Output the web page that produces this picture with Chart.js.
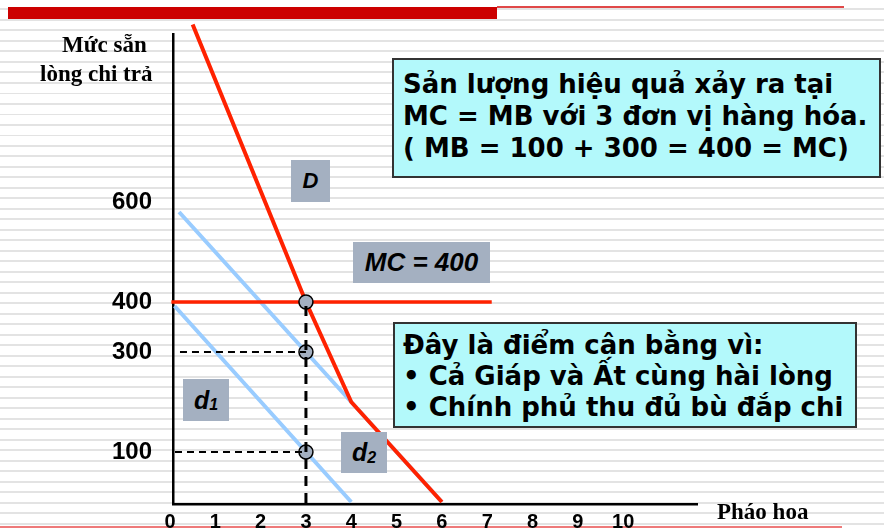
<!DOCTYPE html>
<html>
<head>
<meta charset="utf-8">
<script src="https://cdn.jsdelivr.net/npm/chart.js@4.4.1/dist/chart.umd.min.js"></script>
<style>
  body { margin: 0; }
  #wrap {
    position: relative; width: 884px; height: 530px; overflow: hidden;
    background: repeating-linear-gradient(to bottom, #fff 0px, #fff 8.5px, #e3e3e3 8.5px, #e3e3e3 10.5px);
  }
  #canvas { position: absolute; left: 0; top: 0; }
  .abs { position: absolute; }
  .title { font-family: "Liberation Serif", serif; font-weight: bold; font-size: 23px; white-space: nowrap; color: #000; }
  .note {
    background: #b3f9fb; border: 2px solid #333; box-sizing: border-box;
    font-family: "DejaVu Sans", Verdana, sans-serif; font-weight: bold; color: #000; white-space: nowrap;
  }
  .tag {
    background: #a4b0c1; font-family: "Liberation Sans", Arial, sans-serif; font-weight: bold; font-style: italic;
    color: #000; display: flex; align-items: center; justify-content: center; white-space: nowrap;
  }
  .tag sub { font-size: 16px; position: relative; top: 5px; vertical-align: baseline; }
</style>
</head>
<body>
<div id="wrap">
  <div class="abs" style="left:8px;top:7px;width:489px;height:12px;background:#cc0000"></div>
  <div class="abs" style="left:497px;top:6px;width:347px;height:1.5px;background:#e04848"></div>
  <div class="abs" style="left:0px;top:526px;width:842px;height:1.5px;background:#ee7a7a"></div>

  <canvas id="canvas" width="884" height="530"></canvas>

  <div class="abs title" style="left:62px;top:32px">Mức sẵn</div>
  <div class="abs title" style="left:40px;top:61px">lòng chi trả</div>
  <div class="abs title" style="left:717px;top:499px">Pháo hoa</div>

  <div class="abs note" style="left:392px;top:58px;width:489px;height:120px;padding:8px 0 0 9px;font-size:26px;line-height:32px">
    Sản lượng hiệu quả xảy ra tại<br>MC = MB với 3 đơn vị hàng hóa.<br>( MB = 100 + 300 = 400 = MC)
  </div>
  <div class="abs note" style="left:393px;top:322px;width:464px;height:106px;padding:6px 0 0 8px;font-size:26px;line-height:31px">
    Đây là điểm cân bằng vì:<br>• Cả Giáp và Ất cùng hài lòng<br>• Chính phủ thu đủ bù đắp chi
  </div>

  <div class="abs tag" style="left:291px;top:160px;width:39px;height:42px;font-size:22px">D</div>
  <div class="abs tag" style="left:353px;top:242px;width:137px;height:41px;font-size:26px">MC = 400</div>
  <div class="abs tag" style="left:183px;top:379px;width:46px;height:42px;font-size:25px">d<sub>1</sub></div>
  <div class="abs tag" style="left:341px;top:432px;width:46px;height:41px;font-size:25px">d<sub>2</sub></div>
</div>

<script>
// ticks
let xTicks = [0, 1, 2, 3, 4, 5, 6, 7, 8, 9, 10];
let yTicks = [100, 300, 400, 600];

// curves (quantity, willingness to pay)
let dQ = [0.5, 3, 4, 6];
let dV = [955, 400, 200, 0];
let d1Q = [0.1, 4];
let d1V = [392, 0];
let d2Q = [0.2, 6];
let d2V = [580, 0];
let mcQ = [0.03, 7.1];
let mcV = [400, 400];

// equilibrium points and guide lines
let eqQ = [3, 3, 3];
let eqV = [400, 300, 100];
let guide300Q = [0.22, 3];
let guide100Q = [0.11, 3];

function pts(qs, vs) {
    let out = [];
    for (let i = 0; i < qs.length; i++) {
        out.push({ x: qs[i], y: vs[i] });
    }
    return out;
}

let dashBlack = { borderColor: '#000', pointRadius: 0, fill: false, clip: false };

let options = {
    type: 'line',
    data: {
        datasets: [
            Object.assign({ data: pts([3, 3], [392, -4]), borderWidth: 3, borderDash: [10, 7] }, dashBlack),
            Object.assign({ data: pts(guide300Q, [300, 300]), borderWidth: 2, borderDash: [7, 5] }, dashBlack),
            Object.assign({ data: pts(guide100Q, [100, 100]), borderWidth: 2, borderDash: [7, 5] }, dashBlack),
            {
                data: pts(eqQ, eqV), showLine: false, pointRadius: 7, pointHoverRadius: 7,
                backgroundColor: '#a4b0c1', borderColor: '#000', borderWidth: 1.5, clip: false
            },
            { data: pts(mcQ, mcV), borderColor: '#ff2200', borderWidth: 3.5, pointRadius: 0, fill: false, clip: false },
            { data: pts(dQ, dV), borderColor: '#ff2200', borderWidth: 4, pointRadius: 0, fill: false, clip: false, tension: 0 },
            { data: pts(d1Q, d1V), borderColor: '#99ccff', borderWidth: 4, pointRadius: 0, fill: false, clip: false },
            { data: pts(d2Q, d2V), borderColor: '#99ccff', borderWidth: 4, pointRadius: 0, fill: false, clip: false }
        ]
    },
    options: {
        responsive: false,
        animation: false,
        layout: { padding: { left: 0, right: 187, top: 34, bottom: 0 } },
        plugins: { legend: { display: false }, tooltip: { enabled: false } },
        scales: {
            x: {
                type: 'linear',
                min: 0.066,
                max: 11.63,
                grid: { display: false, drawTicks: false },
                border: { display: true, color: '#000', width: 2.5 },
                afterBuildTicks: function(scale) {
                    scale.ticks = xTicks.map(function(v) { return { value: v }; });
                },
                afterFit: function(scale) { scale.height = 26; },
                ticks: {
                    color: '#000', padding: 6, maxRotation: 0, autoSkip: false,
                    font: { family: 'Liberation Sans', size: 20, weight: 'bold' }
                }
            },
            y: {
                type: 'linear',
                min: -4,
                max: 936,
                grid: { display: false, drawTicks: false },
                border: { display: true, color: '#000', width: 2.5 },
                afterBuildTicks: function(scale) {
                    scale.ticks = yTicks.map(function(v) { return { value: v }; });
                },
                afterFit: function(scale) {
                    // fixed axis width, and keep the label padding from shrinking the plot vertically
                    scale.width = 173;
                    scale.paddingTop = 0;
                    scale.paddingBottom = 0;
                },
                ticks: {
                    color: '#000', padding: 21, autoSkip: false,
                    font: { family: 'Liberation Sans', size: 24, weight: 'bold' }
                }
            }
        }
    }
};

let chart = new Chart(document.getElementById('canvas'), options);
</script>
</body>
</html>
